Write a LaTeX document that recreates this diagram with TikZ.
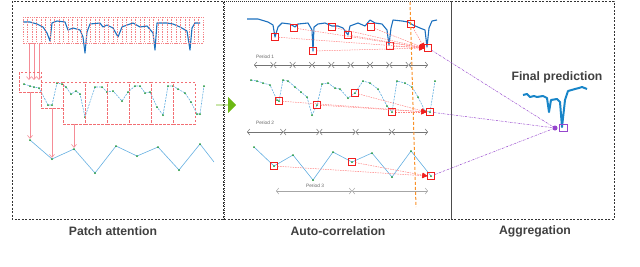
\documentclass[tikz,border=0pt]{standalone}
\usepackage{fontspec}
\setmainfont{Liberation Sans}
\usetikzlibrary{arrows.meta,shapes.arrows}
\definecolor{sigblue}{RGB}{28,112,190}
\definecolor{ptblue}{RGB}{100,175,225}
\definecolor{ptgreen}{RGB}{30,150,50}
\definecolor{patchred}{RGB}{242,110,115}
\definecolor{linkpink}{RGB}{245,140,150}
\definecolor{aggviolet}{RGB}{150,70,205}
\definecolor{labgray}{RGB}{64,64,64}
\definecolor{fatgreen}{RGB}{108,184,20}
\definecolor{lagorange}{RGB}{250,145,40}
\definecolor{hitred}{RGB}{240,30,30}
\newcommand\patchpts{24/84,30/86,34/87,39/88,48/105,52/105,57/83,62/84,66/87,71/94,76/91,80/94,85/117,95/87,102/87,107/92,113/91,122/101,128/92,135/86,140/86,145/93,150/92,157/107,163/115,168/86,173/86,178/89,185/93,191/102,197/114,200/114,204/86}
\newcommand\tokenpts{30/140,52/159,74/149,95/173,116/146,137/156,158/147,179/170,200/144}
\newcommand\midpts{251/80,257/81,263/83,270/85,277/100,279/101,283/80,288/81,295/87,301/92,307/97,312/115,317/105,322/84,328/83,335/88,340/89,348/98,355/93,363/81,370/83,378/89,387/106,392/112,397/81,405/83,412/87,418/97,425/111,430/112,435/81}
\newcommand\lowpts{254/147,274/166,293/155,313/180,333/152,352/162,372/153,392/177,411/151,431/176}

\begin{document}
\begin{tikzpicture}[x=1pt, y=-1pt,
	panel/.style={black!80, line width=0.7pt, dash pattern=on 2pt off 1.5pt},
	caption/.style={text=labgray, font=\fontsize{12.2}{14}\selectfont\bfseries},
	period/.style={text=black!60, font=\fontsize{4.8}{5}\selectfont},
	signal/.style={sigblue, line width=1.1pt, line join=round},
	series/.style={ptblue, line width=0.6pt, line join=round},
	pt/.style={circle, fill=ptgreen, inner sep=0pt, minimum size=2pt},
	patch/.style={draw=patchred, dash pattern=on 2.5pt off 1.5pt, line width=0.6pt, inner sep=0pt},
	strip/.style={patchred!85, dash pattern=on 1.2pt off 1.2pt, line width=0.45pt},
	link/.style={linkpink, line width=0.6pt, -{Straight Barb[length=3pt,width=5pt]}},
	hit/.style={draw=hitred, line width=0.8pt, inner sep=0pt, minimum size=6.5pt},
	corr/.style={red!50, dash pattern=on 1.5pt off 1pt, line width=0.5pt, -{Triangle[length=5pt,width=5pt,color=hitred]}},
	lagspan/.style={black!55, line width=0.5pt, {Straight Barb[length=2.5pt,width=6pt]}-{Straight Barb[length=2.5pt,width=6pt]}},
	agg/.style={aggviolet, line width=0.5pt, dash pattern=on 2pt off 1pt on 0.5pt off 1pt},
	lagline/.style={lagorange, line width=1pt, dash pattern=on 3pt off 2pt}]
	\useasboundingbox (0,0) rectangle (640,266);
	\draw[panel] (12,1) rectangle (223,219);
	\draw[panel, line width=1pt, dash pattern=on 1pt off 1pt] (224,219) -- (224,1) -- (451,1);
	\draw[panel] (224,219) -- (451,219);
	\draw[panel] (451,1) -- (614,1) -- (614,219) -- (451,219);
	\draw[black!70, line width=0.8pt] (451,1) -- (451,219);
	\node[caption] (capA) at (113,231) {Patch attention};
	\node[caption] (capB) at (338,231) {Auto-correlation};
	\node[caption] (capC) at (535,231) {Aggregation};

	\draw[signal] plot coordinates {(23,22) (30,22) (37,24) (43,27) (47,33) (50,41) (52,23) (57,21) (65,22) (68,30) (73,28) (80,30) (83,37) (85,53) (87,32) (90,24) (100,23) (103,27) (107,25) (113,28) (118,37) (122,27) (127,25) (133,23) (140,27) (147,26) (153,33) (155,50) (157,23) (167,23) (173,24) (180,27) (187,31) (190,50) (192,28) (195,23) (200,23)};
	\foreach \i in {0,...,39} \draw[strip] ({23+4.5*\i},17) rectangle ++(4.5,26);
	\foreach \x [count=\i] in {29,34,39} {\coordinate (g\i) at (\x,43); \coordinate (h\i) at (\x,80);}
	\foreach \i in {1,2,3} \draw[link] (g\i) -- (h\i);
	\draw[series, dash pattern=on 2pt off 1pt] (24,84) \foreach \x/\y in \patchpts {-- (\x,\y)};
	\foreach \x/\y [count=\i] in \patchpts \node[pt] (a\i) at (\x,\y) {};
	\node[patch, minimum width=22pt, minimum height=20pt] (p1) at (30,82) {};
	\node[patch, minimum width=22pt, minimum height=26pt] (p2) at (52,95) {};
	\foreach \i in {3,...,8} \node[patch, minimum width=22pt, minimum height=42pt] (p\i) at ({74+22*(\i-3)},103) {};
	\draw[series] (30,140) \foreach \x/\y in \tokenpts {-- (\x,\y)} -- (214,162);
	\foreach \x/\y [count=\i] in \tokenpts \node[pt] (b\i) at (\x,\y) {};
	\foreach \i in {1,2,3} \draw[link] (p\i.south) -- (b\i);
	\node[single arrow, fill=fatgreen, minimum width=16pt, minimum height=20pt, single arrow head extend=4pt, inner sep=0pt] (shift) at (226,105) {};

	\draw[signal] plot coordinates {(247,19) (258,19) (268,22) (273,25) (275,37) (278,27) (282,23) (290,24) (295,27) (298,24) (308,23) (312,30) (313,51) (314,27) (318,24) (325,23) (332,26) (338,26) (343,28) (348,35) (350,26) (358,23) (365,26) (370,20) (375,23) (382,24) (387,30) (389,45) (391,28) (393,20) (402,21) (408,22) (413,25) (420,28) (425,30) (427,47) (429,28) (432,21) (437,20)};
	\foreach \x/\y [count=\i] in {275/37,294/28,313/51,332/27,348/35,371/27,390/46,411/24} \node[hit] (c1\i) at (\x,\y) {};
	\node[hit] (f1) at (428,48) {};
	\foreach \i in {1,...,8} \draw[corr] (c1\i) -- (f1.west);
	\node[period] (per1) at (265,57) {Period 1};
	\foreach \i in {0,...,9} \coordinate (ra\i) at ({254+19.33*\i},65);
	\foreach \i [evaluate=\i as \j using int(\i+1)] in {0,...,8} \draw[lagspan] (ra\i) -- (ra\j);

	\draw[series, dash pattern=on 2pt off 1pt] (251,80) \foreach \x/\y in \midpts {-- (\x,\y)};
	\foreach \x/\y [count=\i] in \midpts \node[pt] (d\i) at (\x,\y) {};
	\foreach \x/\y [count=\i] in {279/101,317/105,355/93,392/112} \node[hit] (c2\i) at (\x,\y) {};
	\node[hit] (f2) at (430,112) {};
	\foreach \i in {1,...,4} \draw[corr] (c2\i) -- (f2.west);
	\node[period] (per2) at (265,123) {Period 2};
	\foreach \i in {0,...,5} \coordinate (rb\i) at ({247+36.2*\i},132);
	\foreach \i [evaluate=\i as \j using int(\i+1)] in {0,...,4} \draw[lagspan] (rb\i) -- (rb\j);

	\draw[series] (254,147) \foreach \x/\y in \lowpts {-- (\x,\y)};
	\foreach \x/\y [count=\i] in \lowpts \node[pt] (e\i) at (\x,\y) {};
	\node[hit] (c31) at (274,166) {};
	\node[hit] (c32) at (352,162) {};
	\node[hit] (f3) at (431,176) {};
	\foreach \i in {1,2} \draw[corr] (c3\i) -- (f3.west);
	\node[period] (per3) at (315,186) {Period 3};
	\foreach \x [count=\i] in {276,352,428} \coordinate (rc\i) at (\x,191);
	\draw[lagspan, black!35] (rc1) -- (rc2);
	\draw[lagspan, black!35] (rc2) -- (rc3);
	\coordinate (lagtop) at (410,2);
	\coordinate (lagbot) at (416,207);
	\draw[lagline] (lagtop) -- (lagbot);

	\node[caption] (finlab) at (557,77) {Final prediction};
	\draw[sigblue!85!cyan, line width=2pt, line join=round] plot coordinates {(523,95) (527,94) (530,97) (534,96) (537,97) (543,96) (547,98) (549,112) (551,100) (557,99) (560,102) (562,127) (565,100) (568,91) (575,89) (579,88) (582,87) (587,89)};
	\node[circle, fill=aggviolet, inner sep=0pt, minimum size=5pt] (fp) at (555,128) {};
	\node[draw=aggviolet, line width=0.8pt, inner sep=0pt, minimum width=8pt, minimum height=7pt] (fq) at (563,128) {};
	\foreach \i in {1,2,3} \draw[agg] (f\i) -- (fp);
\end{tikzpicture}
\end{document}
